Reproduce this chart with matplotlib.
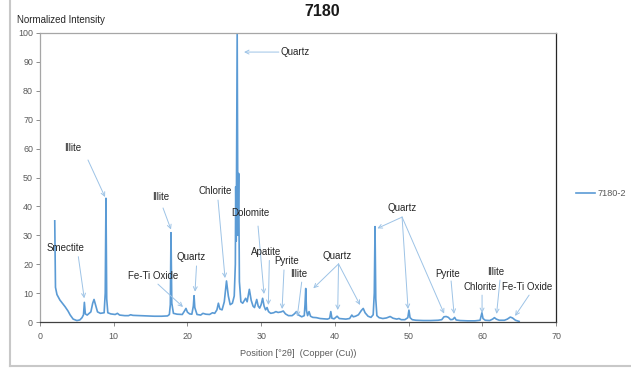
"""
XRD pattern for sample 7180 with mineral phase labels
"""

import matplotlib
matplotlib.use('Agg')
import matplotlib.pyplot as plt
from matplotlib.lines import Line2D

plt.rcParams['font.family'] = ['Liberation Sans', 'DejaVu Sans']

# Measured pattern (2-theta, normalized intensity)
two_theta = [
    2.00, 2.10, 2.30, 2.70, 3.10, 3.40, 3.80, 4.10, 4.50, 5.00,
    5.40, 5.70, 5.90, 6.02, 6.15, 6.40, 6.90, 7.15, 7.33, 7.50,
    7.80, 8.20, 8.70, 8.85, 8.95, 9.05, 9.20, 9.60, 10.20, 10.50,
    10.80, 11.50, 12.00, 12.30, 12.60, 13.50, 14.50, 15.50, 16.50, 17.30,
    17.55, 17.68, 17.77, 17.88, 18.10, 18.60, 19.30, 19.60, 19.80, 20.00,
    20.30, 20.60, 20.80, 20.90, 21.00, 21.30, 21.80, 22.10, 22.50, 23.00,
    23.40, 23.70, 24.00, 24.20, 24.40, 24.70, 25.00, 25.30, 25.55, 25.80,
    26.10, 26.35, 26.50, 26.55, 26.62, 26.75, 26.85, 26.95, 27.05, 27.25,
    27.50, 27.90, 28.10, 28.40, 28.65, 28.90, 29.10, 29.40, 29.60, 29.80,
    30.00, 30.20, 30.40, 30.60, 30.80, 31.00, 31.30, 31.70, 32.00, 32.30,
    32.70, 33.00, 33.30, 33.70, 34.20, 34.50, 34.80, 35.10, 35.50, 35.85,
    35.95, 36.05, 36.15, 36.30, 36.50, 36.70, 37.00, 37.50, 38.00, 38.50,
    39.00, 39.30, 39.45, 39.60, 39.90, 40.30, 40.60, 41.00, 41.50, 42.00,
    42.30, 42.50, 42.80, 43.20, 43.60, 43.85, 44.10, 44.50, 44.90, 45.20,
    45.35, 45.45, 45.55, 45.70, 46.00, 46.50, 47.00, 47.50, 47.90, 48.40,
    48.70, 49.00, 49.50, 49.90, 50.05, 50.20, 50.50, 51.00, 52.00, 53.00,
    54.00, 54.50, 54.80, 55.10, 55.40, 55.70, 56.00, 56.25, 56.45, 57.00,
    58.00, 59.00, 59.70, 59.95, 60.10, 60.40, 61.00, 61.40, 61.65, 61.90,
    62.30, 63.00, 63.40, 63.80, 64.10, 64.50, 65.00,
]
intensity = [
    35.0, 12.0, 9.5, 7.6, 6.3, 5.3, 3.8, 2.4, 1.0, 0.5,
    0.7, 1.5, 2.5, 6.8, 2.8, 2.4, 3.5, 6.5, 7.8, 6.2,
    3.5, 3.0, 3.2, 10.0, 42.8, 8.0, 3.2, 2.8, 2.6, 3.0,
    2.4, 2.2, 2.2, 2.5, 2.3, 2.2, 2.1, 2.0, 2.0, 2.1,
    2.6, 6.0, 30.9, 6.5, 3.0, 2.7, 2.6, 3.8, 4.7, 3.4,
    2.8, 2.7, 5.5, 9.1, 5.0, 2.6, 2.4, 3.0, 2.7, 2.6,
    3.2, 3.0, 4.2, 6.5, 4.5, 4.2, 7.0, 14.2, 9.0, 6.0,
    6.5, 9.0, 20.0, 46.8, 28.0, 100.0, 30.0, 51.4, 14.0, 7.0,
    6.5, 8.2, 7.0, 11.3, 7.5, 5.5, 5.0, 7.8, 5.5, 4.8,
    6.0, 8.2, 5.5, 4.2, 5.0, 3.6, 3.0, 3.2, 3.6, 3.3,
    3.5, 3.8, 2.8, 2.2, 2.2, 2.8, 3.6, 2.4, 1.8, 2.2,
    6.0, 11.6, 4.0, 2.2, 3.6, 2.0, 1.6, 1.5, 1.2, 1.1,
    1.0, 1.3, 3.6, 1.3, 1.1, 2.0, 1.2, 1.1, 1.0, 1.2,
    2.4, 1.8, 2.0, 2.5, 4.0, 4.7, 3.2, 2.0, 1.6, 2.5,
    10.0, 33.0, 8.0, 2.2, 1.5, 1.2, 1.4, 1.9, 1.3, 1.0,
    1.2, 0.8, 0.8, 1.5, 4.1, 1.5, 0.8, 0.6, 0.5, 0.5,
    0.6, 0.8, 1.8, 1.9, 1.6, 0.8, 0.9, 1.6, 0.7, 0.5,
    0.4, 0.4, 0.6, 3.2, 1.2, 0.6, 0.5, 1.0, 1.5, 1.0,
    0.6, 0.6, 1.0, 1.7, 1.4, 0.6, 0.2,
]

# Phase labels: (name, label position, [arrow tail, arrow head] pairs)
phase_names = [
    'Quartz', 'Illite', 'Illite', 'Chlorite', 'Dolomite', 'Apatite',
    'Pyrite', 'Illite', 'Quartz', 'Fe-Ti Oxide', 'Quartz', 'Smectite',
    'Quartz', 'Pyrite', 'Chlorite', 'Illite', 'Fe-Ti Oxide',
]
label_xy = [
    (32.56, 93.4), (4.48, 60.2), (16.42, 43.25), (23.74, 45.3), (28.6, 37.8),
    (30.62, 24.3), (33.5, 21.1), (35.14, 16.6), (40.27, 22.9), (15.4, 16.0),
    (20.53, 22.4), (3.42, 25.5), (49.12, 39.3), (55.36, 16.6), (59.7, 12.2),
    (61.87, 17.4), (66.12, 12.2),
]
arrow_tails = [
    [(32.4, 93.4)], [(6.51, 56.06)], [(16.69, 39.45)], [(24.15, 42.2)],
    [(29.58, 33.2)], [(31.11, 21.3)], [(33.1, 18.0)], [(35.5, 13.8)],
    [(40.5, 20.1)] * 3, [(16.0, 13.1)], [(21.23, 19.4)], [(5.2, 22.6)],
    [(49.12, 36.3)] * 3, [(55.77, 14.2)], [(59.97, 9.3)], [(62.4, 14.5)],
    [(66.35, 9.3)],
]
arrow_heads = [
    [(27.68, 93.4)], [(8.82, 43.25)], [(17.77, 32.0)], [(25.1, 15.2)],
    [(30.39, 9.7)], [(30.98, 5.9)], [(32.84, 4.5)], [(34.9, 1.9)],
    [(37.08, 11.66), (40.39, 4.15), (43.42, 5.88)], [(19.4, 5.2)],
    [(21.03, 10.5)], [(6.0, 8.2)],
    [(45.77, 32.4), (49.93, 4.5), (54.82, 2.9)], [(56.17, 2.8)],
    [(59.97, 3.1)], [(61.94, 2.8)], [(64.45, 2.1)],
]

x_ticks = list(range(0, 71, 10))
y_ticks = list(range(0, 101, 10))

line_color = '#5b9bd5'
arrow_color = '#9dc3e6'
text_color = '#262626'
tick_color = '#595959'

fig = plt.figure(figsize=(6.31, 3.77), dpi=100)
ax = fig.add_axes([40 / 631, 1 - 322 / 377, 516 / 631, 289 / 377])

ax.plot(two_theta, intensity, color=line_color, lw=1.2, label='7180-2')

for name, (tx, ty), tails, heads in zip(phase_names, label_xy, arrow_tails, arrow_heads):
    ha = 'left' if name == 'Quartz' and ty > 90 else 'center'
    ax.text(tx, ty, name, ha=ha, va='center', fontsize=7, color=text_color)
    for tail, head in zip(tails, heads):
        ax.annotate('', xy=head, xytext=tail,
                    arrowprops=dict(arrowstyle='->', color=arrow_color, lw=0.7,
                                    shrinkA=0, shrinkB=0, mutation_scale=7))

ax.set_xlim(0, 70)
ax.set_ylim(0, 100)
ax.set_xticks(x_ticks)
ax.set_yticks(y_ticks)
ax.tick_params(direction='out', length=3, width=0.7, colors='#8c8c8c',
               labelcolor=tick_color, labelsize=6.4, pad=2)
ax.tick_params(axis='x', pad=4)

ax.spines['left'].set_color('#a6a6a6')
ax.spines['top'].set_color('#a6a6a6')
ax.spines['bottom'].set_color('#404040')
ax.spines['right'].set_color('#262626')
for sp in ax.spines.values():
    sp.set_linewidth(0.9)

ax.set_xlabel('Position [°2θ]  (Copper (Cu))', fontsize=6.6, color=tick_color, labelpad=6)

fig.text(17 / 631, 1 - 20 / 377, 'Normalized Intensity', fontsize=7, color=text_color,
         ha='left', va='center')
fig.text(322 / 631, 1 - 11 / 377, '7180', fontsize=11.5, fontweight='bold',
         color='#1a1a1a', ha='center', va='center')

ax.legend(loc='center left', bbox_to_anchor=(1 + 20 / 516, 0.443), frameon=False,
          fontsize=6.6, handlelength=2.1, handletextpad=0.3, borderpad=0,
          borderaxespad=0, labelcolor=tick_color)

# chart area border
fig.add_artist(Line2D([10 / 631, 10 / 631], [1, 1 - 366 / 377], color='#c8c8c8', lw=1.5))
fig.add_artist(Line2D([10 / 631, 1], [1 - 366 / 377, 1 - 366 / 377], color='#c8c8c8', lw=1.5))

plt.savefig('out.png', dpi=100)
plt.close()
